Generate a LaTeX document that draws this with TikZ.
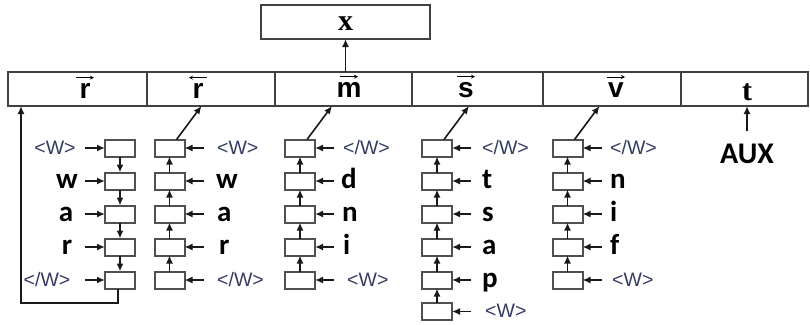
\documentclass[tikz,border=0pt]{standalone}
\usepackage{fontspec}
\setmainfont{Liberation Sans}
\newfontfamily\labfont{Carlito}
\newfontfamily\serfont{Liberation Serif}
\usetikzlibrary{arrows.meta}

\definecolor{tagblue}{RGB}{50,60,95}
\definecolor{boxgray}{RGB}{65,65,65}
\definecolor{cellgray}{RGB}{80,80,80}

\begin{document}
\begin{tikzpicture}[x=1pt,y=-1pt,
  barbox/.style={draw=boxgray, line width=2pt, minimum height=34pt, inner sep=0pt, outer sep=0pt},
  cellbox/.style={draw=cellgray, line width=2pt, minimum width=30pt, minimum height=17pt, inner sep=0pt, outer sep=0pt, fill=white},
  arr/.style={draw=black!90, line width=1.6pt, -{Latex[length=8pt,width=7pt]}},
  vecarr/.style={line width=0.9pt, -{Stealth[length=4pt,width=4pt]}},
  tag/.style={font=\fontsize{19.5}{19.5}\selectfont, text=tagblue, inner sep=0pt},
  chr/.style={font=\labfont\bfseries\fontsize{29}{29}\selectfont, inner sep=0pt},
  barlab/.style={font=\bfseries\fontsize{28}{28}\selectfont, inner sep=0pt},
  serlab/.style={font=\serfont\bfseries\fontsize{30}{30}\selectfont, inner sep=0pt},
]
\useasboundingbox (0,0) rectangle (810,324);

% output box and the bar of concatenated vectors
\node[barbox, minimum width=169pt] (xb) at (345.5,22) {};
\node[barbox, minimum width=139pt] (br1) at (77.5,89) {};
\node[barbox, minimum width=128pt] (br2) at (211,89) {};
\node[barbox, minimum width=137pt] (br3) at (343.5,89) {};
\node[barbox, minimum width=131pt] (br4) at (477.5,89) {};
\node[barbox, minimum width=138pt] (br5) at (612,89) {};
\node[barbox, minimum width=127pt] (br6) at (744.5,89) {};

\node[serlab, anchor=base] (lx) at (345.5,30) {x};
\node[barlab, anchor=base] (lb1) at (85,98) {r};
\node[barlab, anchor=base] (lb2) at (198,98) {r};
\node[barlab, anchor=base] (lb3) at (349,97) {m};
\node[barlab, anchor=base] (lb4) at (466,97) {s};
\node[barlab, anchor=base] (lb5) at (616,97) {v};
\node[serlab, anchor=base] (lb6) at (747,100) {t};

% vector arrows over the labels
\draw[vecarr] ([xshift=-9pt,yshift=5pt]lb1.north) -- ([xshift=9pt,yshift=5pt]lb1.north);
\draw[vecarr] ([xshift=9pt,yshift=5pt]lb2.north) -- ([xshift=-9pt,yshift=5pt]lb2.north);
\draw[vecarr] ([xshift=-9pt,yshift=5pt]lb3.north) -- ([xshift=9pt,yshift=5pt]lb3.north);
\draw[vecarr] ([xshift=-9pt,yshift=5pt]lb4.north) -- ([xshift=9pt,yshift=5pt]lb4.north);
\draw[vecarr] ([xshift=-9pt,yshift=5pt]lb5.north) -- ([xshift=9pt,yshift=5pt]lb5.north);

\draw[arr] (xb.south |- br3.north) -- (xb.south);

% recurrent cells
\foreach \i/\y in {1/148,2/181,3/214,4/247,5/280} {
  \node[cellbox] (fw\i) at (120,\y) {};
  \node[cellbox] (bw\i) at (169.5,\y) {};
  \node[cellbox] (mc\i) at (300,\y) {};
  \node[cellbox] (sc\i) at (437,\y) {};
  \node[cellbox] (vc\i) at (567.5,\y) {};
}
\node[cellbox] (sc6) at (437,311.5) {};

% input arrows
\foreach \i in {1,...,5} {
  \draw[arr] ([xshift=-20pt]fw\i.west) -- (fw\i.west);
  \draw[arr] ([xshift=19pt]bw\i.east) -- (bw\i.east);
  \draw[arr] ([xshift=19pt]mc\i.east) -- (mc\i.east);
  \draw[arr] ([xshift=19pt]sc\i.east) -- (sc\i.east);
  \draw[arr] ([xshift=19pt]vc\i.east) -- (vc\i.east);
}
\draw[arr] ([xshift=19pt]sc6.east) -- (sc6.east);

% chain arrows
\foreach \i/\j in {1/2,2/3,3/4,4/5} {
  \draw[arr] (fw\i.south) -- (fw\j.north);
  \draw[arr] (bw\j.north) -- (bw\i.south);
  \draw[arr] (mc\j.north) -- (mc\i.south);
  \draw[arr] (sc\j.north) -- (sc\i.south);
  \draw[arr] (vc\j.north) -- (vc\i.south);
}
\draw[arr] (sc6.north) -- (sc5.south);

% last states up to the bar
\draw[arr] ([xshift=7pt]bw1.north) -- ([xshift=-9.5pt]br2.south);
\draw[arr] ([xshift=7pt]mc1.north) -- ([xshift=-11.5pt]br3.south);
\draw[arr] ([xshift=7pt]sc1.north) -- ([xshift=-8.5pt]br4.south);
\draw[arr] ([xshift=7pt]vc1.north) -- ([xshift=-12.5pt]br5.south);
\coordinate (loopc) at (21,303);
\draw[arr] ([xshift=-2pt]fw5.south) |- (loopc) -- (loopc |- br1.south);

% input symbols
\node[tag, anchor=base] (f1) at (55,154.5) {<W>};
\node[chr, anchor=base] (f2) at (67,188) {w};
\node[chr, anchor=base] (f3) at (66,221) {a};
\node[chr, anchor=base] (f4) at (67,254) {r};
\node[tag, anchor=base] (f5) at (47,286.5) {</W>};

\node[tag, anchor=base west] (g1) at (217,154.5) {<W>};
\node[chr, anchor=base west] (g2) at (216,188) {w};
\node[chr, anchor=base west] (g3) at (217,221) {a};
\node[chr, anchor=base west] (g4) at (219,254) {r};
\node[tag, anchor=base west] (g5) at (217,286.5) {</W>};

\node[tag, anchor=base west] (m1) at (343,154.5) {</W>};
\node[chr, anchor=base west] (m2) at (341,188) {d};
\node[chr, anchor=base west] (m3) at (342,221) {n};
\node[chr, anchor=base west] (m4) at (343,254) {i};
\node[tag, anchor=base west] (m5) at (347,286.5) {<W>};

\node[tag, anchor=base west] (s1) at (482,154.5) {</W>};
\node[chr, anchor=base west] (s2) at (482,188) {t};
\node[chr, anchor=base west] (s3) at (482,221) {s};
\node[chr, anchor=base west] (s4) at (482,254) {a};
\node[chr, anchor=base west] (s5) at (482,287) {p};
\node[tag, anchor=base west] (s6) at (485,317) {<W>};

\node[tag, anchor=base west] (v1) at (610,154.5) {</W>};
\node[chr, anchor=base west] (v2) at (610,188) {n};
\node[chr, anchor=base west] (v3) at (610,221) {i};
\node[chr, anchor=base west] (v4) at (610,254) {f};
\node[tag, anchor=base west] (v5) at (612,286.5) {<W>};

% auxiliary input
\node[font=\labfont\bfseries\fontsize{30}{30}\selectfont, inner sep=0pt, anchor=base] (aux) at (747,163) {AUX};
\draw[arr] ([yshift=12pt]aux.north) -- (aux.north |- br6.south);
\end{tikzpicture}
\end{document}
